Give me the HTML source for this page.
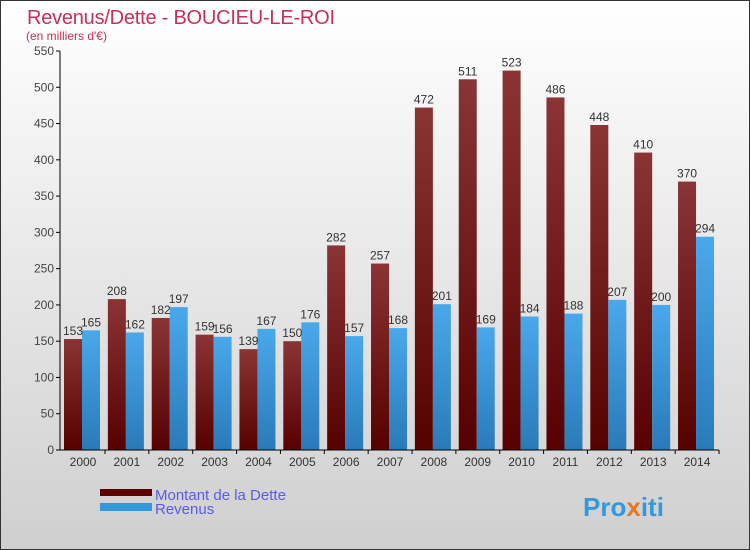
<!DOCTYPE html>
<html><head><meta charset="utf-8"><style>
body{margin:0}
svg{display:block;font-family:"Liberation Sans",sans-serif}
</style></head><body>
<svg id="c" width="750" height="550">
<defs>
<linearGradient id="bg" x1="0" y1="0" x2="0" y2="1"><stop offset="0" stop-color="#ffffff"/><stop offset="1" stop-color="#cfcfcf"/></linearGradient>
<linearGradient id="gd" x1="0" y1="0" x2="0" y2="1"><stop offset="0" stop-color="#8a3436"/><stop offset="1" stop-color="#560000"/></linearGradient>
<linearGradient id="gr" x1="0" y1="0" x2="0" y2="1"><stop offset="0" stop-color="#4aa8ea"/><stop offset="1" stop-color="#2a7ab8"/></linearGradient>
</defs>
<rect x="0.5" y="0.5" width="749" height="549" fill="url(#bg)" stroke="#333"/>
<text x="27" y="24" font-size="20" textLength="308" fill="#c8305a">Revenus/Dette - BOUCIEU-LE-ROI</text>
<text x="26" y="40" font-size="12" fill="#c8305a">(en milliers d'€)</text>
<g id="plot"></g>
<rect x="100" y="489" width="52" height="7" fill="#5e0000"/>
<text x="155" y="500" font-size="15" fill="#5a5af0">Montant de la Dette</text>
<rect x="100" y="503" width="52" height="8" fill="#3399dd"/>
<text x="155" y="514" font-size="15" fill="#5a5af0">Revenus</text>
<text x="583" y="516" font-size="26" font-weight="bold" fill="#3399dd">Pro<tspan fill="#e87722">x</tspan>iti</text>
</svg>
<script>
const years=["2000","2001","2002","2003","2004","2005","2006","2007","2008","2009","2010","2011","2012","2013","2014"];
const dette=[153,208,182,159,139,150,282,257,472,511,523,486,448,410,370];
const revenus=[165,162,197,156,167,176,157,168,201,169,184,188,207,200,294];
const ticks=[0,50,100,150,200,250,300,350,400,450,500,550];
const NS="http://www.w3.org/2000/svg";
const g=document.getElementById('plot');
const y=v=>450-v*(399/550);
const xc=i=>83+i*43.86;
function mk(t,a,txt){const e=document.createElementNS(NS,t);for(const k in a)e.setAttribute(k,a[k]);if(txt!==undefined)e.textContent=txt;g.appendChild(e);return e;}
ticks.forEach(t=>{
 const l=mk('line',{x1:56,x2:60,y1:y(t),y2:y(t),stroke:'#000'});
 
 
 const tx=mk('text',{x:54,y:y(t)+4,'font-size':12,fill:'#444','text-anchor':'end'},String(t));
 
 
});
years.forEach((yr,i)=>{
 const c=xc(i);
 const b1=mk('rect',{x:c-19,y:y(dette[i]),width:18,height:450-y(dette[i]),fill:'url(#gd)'});
 
 
 const b2=mk('rect',{x:c-1,y:y(revenus[i]),width:18,height:450-y(revenus[i]),fill:'url(#gr)'});
 
 
 const t1=mk('text',{x:c-10,y:y(dette[i])-4,'font-size':12,fill:'#333','text-anchor':'middle'},String(dette[i]));
 
 
 const t2=mk('text',{x:c+8,y:y(revenus[i])-4,'font-size':12,fill:'#333','text-anchor':'middle'},String(revenus[i]));
 
 
 const xl=mk('text',{x:c,y:466,'font-size':12,fill:'#333','text-anchor':'middle'},yr);
 
 
 const tk=mk('line',{x1:c+22,x2:c+22,y1:450,y2:454,stroke:'#000'});
 
 
});
const ya=mk('line',{x1:60,x2:60,y1:y(550),y2:450,stroke:'#000'});


const xa=mk('line',{x1:60,x2:719,y1:450,y2:450,stroke:'#000'});


</script>
</body></html>
